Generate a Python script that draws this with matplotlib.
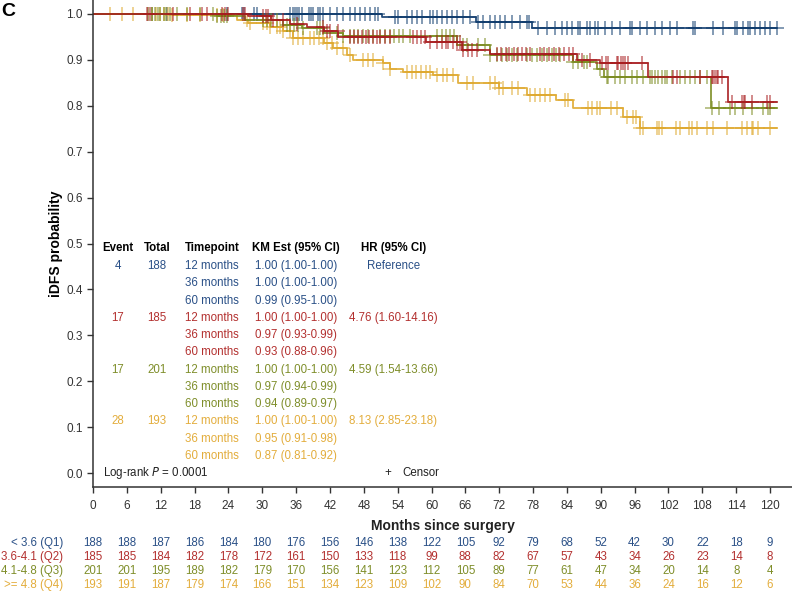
import numpy as np
import matplotlib.pyplot as plt

plt.rcParams['font.family'] = ['Liberation Sans', 'DejaVu Sans']

# Risk table
risk_times = np.arange(0, 121, 6)
group_labels = ["< 3.6 (Q1)", "3.6-4.1 (Q2)", "4.1-4.8 (Q3)", ">= 4.8 (Q4)"]
risk_q1 = [188, 188, 187, 186, 184, 180, 176, 156, 146, 138, 122, 105, 92, 79, 68, 52, 42, 30, 22, 18, 9]
risk_q2 = [185, 185, 184, 182, 178, 172, 161, 150, 133, 118, 99, 88, 82, 67, 57, 43, 34, 26, 23, 14, 8]
risk_q3 = [201, 201, 195, 189, 182, 179, 170, 156, 141, 123, 112, 105, 89, 77, 61, 47, 34, 20, 14, 8, 4]
risk_q4 = [193, 191, 187, 179, 174, 166, 151, 134, 123, 109, 102, 90, 84, 70, 53, 44, 36, 24, 16, 12, 6]

# KM step functions (event times in months, survival after each step)
q1_t = [51.2, 67.8, 77.8]
q1_s = [0.993, 0.983, 0.970]
q2_t = [27.5, 31.5, 35.0, 38.0, 41.0, 43.5, 59.0, 65.4, 70.4, 85.8, 89.9, 98.4, 112.5]
q2_s = [0.995, 0.987, 0.979, 0.972, 0.962, 0.950, 0.938, 0.921, 0.913, 0.900, 0.893, 0.863, 0.809]
q3_t = [22.0, 27.0, 33.7, 37.0, 41.0, 44.3, 64.5, 70.4, 85.0, 89.3, 90.5, 109.5]
q3_s = [0.995, 0.987, 0.976, 0.969, 0.958, 0.951, 0.932, 0.911, 0.896, 0.881, 0.863, 0.796]
q4_t = [14.0, 25.5, 27.5, 31.4, 33.7, 35.5, 41.0, 42.5, 45.0, 46.0, 51.4, 52.6, 55.0, 60.3,
        64.7, 72.0, 77.0, 82.0, 85.0, 94.0, 97.0]
q4_s = [0.997, 0.988, 0.981, 0.972, 0.962, 0.947, 0.936, 0.925, 0.911, 0.900, 0.893, 0.881, 0.874, 0.867,
        0.849, 0.838, 0.824, 0.813, 0.795, 0.776, 0.751]
curve_end = 121.2

# Censor times (months)
q1_cens = [9.7, 10.5, 13.1, 23.8, 26.4, 26.8, 28.6, 29.0, 35.0, 35.4, 35.8, 36.2, 36.6, 37.0, 38.2, 38.6,
           39.0, 39.8, 40.2, 40.8, 42.0, 43.2, 44.3, 45.5, 46.4, 47.3, 48.2, 49.1, 50.0, 50.5, 53.5, 54.1,
           55.7, 56.5, 57.4, 58.3, 59.7, 60.2, 61.0, 61.9, 62.7, 63.6, 64.5, 65.6, 66.8, 68.2, 69.1, 70.4,
           71.3, 72.1, 73.0, 74.3, 75.7, 76.9, 77.3, 78.9, 80.5, 81.9, 83.1, 84.0, 84.9, 86.0, 86.3, 87.6,
           88.1, 89.0, 89.5, 90.7, 92.0, 93.4, 95.2, 95.5, 96.9, 98.2, 99.6, 100.8, 102.3, 103.5, 106.3,
           106.7, 109.9, 111.7, 113.8, 114.1, 115.2, 116.1, 116.4, 117.3, 118.2, 119.1, 120.0, 121.2]
q2_cens = [9.6, 10.1, 14.2, 17.2, 19.3, 20.2, 22.9, 23.4, 23.9, 26.6, 27.0, 30.1, 30.6, 31.0, 31.9, 33.7,
           36.2, 40.8, 41.4, 42.0, 43.4, 45.5, 46.2, 46.9, 47.6, 48.3, 49.0, 49.6, 50.3, 50.9, 51.8, 52.6,
           56.7, 57.4, 58.1, 58.8, 59.7, 61.0, 61.8, 62.5, 63.0, 63.8, 64.5, 65.0, 65.6, 66.4, 67.2, 68.0,
           71.6, 72.4, 73.2, 73.8, 74.6, 75.4, 76.1, 76.8, 77.5, 79.2, 80.0, 80.8, 81.7, 82.6, 83.5, 84.3,
           85.1, 86.6, 88.1, 90.2, 90.9, 91.3, 92.9, 93.1, 93.6, 93.9, 94.3, 94.8, 97.3, 102.8, 103.5, 107.6,
           109.7, 109.9, 110.2, 110.6, 110.8, 111.5, 113.3, 115.0, 115.3, 115.6, 116.8, 119.5, 120.0]
q3_cens = [10.5, 11.0, 11.5, 11.9, 12.5, 13.0, 13.6, 14.9, 16.7, 19.0, 21.3, 22.0, 22.6, 23.2, 23.8, 30.1,
           30.8, 31.5, 32.6, 34.4, 35.0, 35.6, 36.3, 37.2, 39.7, 40.3, 40.8, 43.2, 44.3, 45.5, 46.3, 47.0,
           47.8, 48.7, 49.6, 50.9, 51.8, 52.6, 53.4, 54.2, 55.0, 56.2, 61.0, 61.8, 62.5, 63.3, 64.0, 65.6,
           66.3, 68.2, 69.5, 70.4, 71.6, 72.5, 73.4, 74.3, 75.2, 76.9, 77.8, 78.7, 79.6, 80.5, 81.4, 82.1,
           82.8, 85.0, 86.0, 87.0, 87.6, 89.9, 91.1, 91.3, 92.5, 93.4, 94.3, 95.5, 96.4, 97.5, 98.7, 99.1,
           99.6, 100.1, 100.8, 101.4, 101.7, 102.6, 104.0, 104.9, 105.8, 106.7, 107.6, 108.8, 109.7, 111.0,
           112.9, 113.8, 115.2, 116.8, 118.8, 119.6, 120.0]
q4_cens = [3.0, 5.1, 7.1, 9.7, 10.4, 11.1, 11.8, 12.5, 13.3, 14.0, 16.7, 19.0, 22.0, 23.0, 27.3, 27.8,
           30.1, 30.8, 31.4, 32.6, 33.2, 33.7, 34.9, 35.5, 36.3, 37.2, 38.5, 39.2, 40.0, 40.8, 41.5, 42.4,
           43.2, 44.3, 45.5, 47.9, 48.8, 49.6, 51.4, 52.6, 55.7, 56.5, 57.3, 58.2, 59.0, 59.7, 61.0, 62.0,
           62.8, 63.8, 66.3, 67.4, 70.4, 71.2, 72.0, 72.7, 74.3, 75.3, 77.5, 78.3, 79.2, 80.1, 81.0, 83.7,
           84.2, 87.7, 88.5, 89.3, 89.9, 91.8, 92.9, 94.6, 95.7, 96.3, 97.0, 97.5, 100.0, 100.4, 100.8, 103.3,
           104.0, 105.6, 106.2, 107.0, 108.8, 109.9, 112.4, 115.0, 115.9, 116.8, 117.0, 117.9, 120.0]

# Summary table
events = [4, 17, 17, 28]
totals = [188, 185, 201, 193]
timepoints = ["12 months", "36 months", "60 months"]
km_est = [["1.00 (1.00-1.00)", "1.00 (1.00-1.00)", "0.99 (0.95-1.00)"],
          ["1.00 (1.00-1.00)", "0.97 (0.93-0.99)", "0.93 (0.88-0.96)"],
          ["1.00 (1.00-1.00)", "0.97 (0.94-0.99)", "0.94 (0.89-0.97)"],
          ["1.00 (1.00-1.00)", "0.95 (0.91-0.98)", "0.87 (0.81-0.92)"]]
hr_ci = ["Reference", "4.76 (1.60-14.16)", "4.59 (1.54-13.66)", "8.13 (2.85-23.18)"]

line_colors = ['#0d3a6c', '#a81c1f', '#7a8b1e', '#dfa82c']
text_colors = ['#2a5087', '#b3302f', '#7f8e2a', '#e3ad3c']

fig = plt.figure(figsize=(7.92, 5.93), dpi=100)
ax = fig.add_axes([93 / 792, 1 - 487 / 593, 699 / 792, 487 / 593])

groups = [(q1_t, q1_s, q1_cens), (q2_t, q2_s, q2_cens), (q3_t, q3_s, q3_cens), (q4_t, q4_s, q4_cens)]
for i in [0, 3, 2, 1]:
    t, s, cens = groups[i]
    xs = np.r_[0, t, curve_end]
    ys = np.r_[1.0, s, s[-1]]
    ax.step(xs, ys, where='post', color=line_colors[i], lw=1.3, alpha=0.9)
    levels = np.r_[1.0, s]
    cy = levels[np.searchsorted(t, cens, side='right')]
    ax.plot(cens, cy, ls='none', marker='+', ms=10, mew=1.1, color=line_colors[i], alpha=0.65)

ax.set_xlim(0, 699 / 5.642)
ax.set_ylim(-0.0305, 1.0305)
ax.set_xticks(risk_times)
ax.set_yticks(np.arange(0, 1.01, 0.1))
ax.set_yticklabels([f"{v:.1f}" for v in np.arange(0, 1.01, 0.1)])
ax.tick_params(labelsize=8.5, length=4.5, width=1, pad=3, color='#333333', labelcolor='#333333')
ax.tick_params(axis='x', pad=5)
for side in ['top', 'right']:
    ax.spines[side].set_visible(False)
for side in ['left', 'bottom']:
    ax.spines[side].set_linewidth(1.1)
    ax.spines[side].set_color('#333333')

ax.set_ylabel("iDFS probability", fontsize=10, fontweight='bold', va='center')
ax.yaxis.set_label_coords(-37 / 699, 0.5)
ax.text(0.5, -0.08, "Months since surgery", transform=ax.transAxes, ha='center', va='center',
        fontsize=10, fontweight='bold', color='#222222')
fig.text(1 / 792, 1 - 12 / 593, "C", fontsize=14, fontweight='bold', va='center', ha='left')

# summary table inside the plot
fs = 8.3
col_x = [4.4, 11.3, 21.1, 36.0, 53.2]
head_y = 0.49
ax.text(col_x[0], head_y, "Event", ha='center', va='center', fontsize=fs, fontweight='bold')
ax.text(col_x[1], head_y, "Total", ha='center', va='center', fontsize=fs, fontweight='bold')
ax.text(col_x[2], head_y, "Timepoint", ha='center', va='center', fontsize=fs, fontweight='bold')
ax.text(col_x[3], head_y, "KM Est (95% CI)", ha='center', va='center', fontsize=fs, fontweight='bold')
ax.text(col_x[4], head_y, "HR (95% CI)", ha='center', va='center', fontsize=fs, fontweight='bold')
row_step = 0.0376
for g in range(4):
    c = text_colors[g]
    y0 = 0.451 - g * 3 * row_step
    ax.text(col_x[0], y0, str(events[g]), ha='center', va='center', fontsize=fs, color=c)
    ax.text(col_x[1], y0, str(totals[g]), ha='center', va='center', fontsize=fs, color=c)
    ax.text(col_x[4], y0, hr_ci[g], ha='center', va='center', fontsize=fs, color=c)
    for k in range(3):
        y = y0 - k * row_step
        ax.text(col_x[2], y, timepoints[k], ha='center', va='center', fontsize=fs, color=c)
        ax.text(col_x[3], y, km_est[g][k], ha='center', va='center', fontsize=fs, color=c)

ax.text(1.7, 0.0, r"Log-rank $\it{P}$ = 0.0001", ha='left', va='center', fontsize=fs, color='#222222')
ax.text(52.3, 0.0, "+", ha='center', va='center', fontsize=fs, color='#222222')
ax.text(54.8, 0.0, "Censor", ha='left', va='center', fontsize=fs, color='#222222')

# number at risk
risk_rows = [risk_q1, risk_q2, risk_q3, risk_q4]
row_y = [-0.115, -0.144, -0.172, -0.201]
trans = ax.get_xaxis_transform()
for g in range(4):
    ax.text(-5.3, row_y[g], group_labels[g], transform=trans, ha='right', va='center',
            fontsize=fs, color=text_colors[g], clip_on=False)
    for tm, n in zip(risk_times, risk_rows[g]):
        ax.text(tm, row_y[g], str(n), transform=trans, ha='center', va='center',
                fontsize=fs, color=text_colors[g], clip_on=False)

fig.savefig("out.png", dpi=100)
